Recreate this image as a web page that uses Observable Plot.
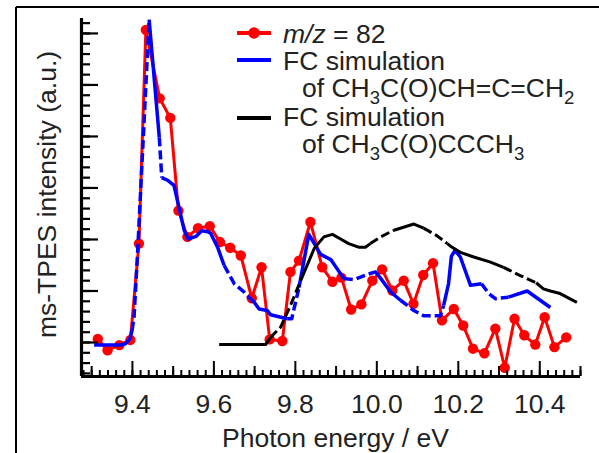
<!DOCTYPE html>
<html><head><meta charset="utf-8">
<script src="https://cdn.jsdelivr.net/npm/d3@7"></script>
<script src="https://cdn.jsdelivr.net/npm/@observablehq/plot@0.6"></script>
<style>
html,body{margin:0;padding:0;background:#fff;}
#chart{position:relative;width:599px;height:453px;overflow:hidden;background:#fff;}
</style></head><body><div id="chart"></div>
<script>
// ---- data (photon energy in eV, intensity in a.u.) ----
const redE = [9.315, 9.339, 9.368, 9.395, 9.416, 9.433, 9.467, 9.493, 9.513, 9.535, 9.561, 9.590, 9.615, 9.640, 9.666, 9.693, 9.717, 9.737, 9.768, 9.788, 9.809, 9.837, 9.866, 9.891, 9.913, 9.937, 9.962, 9.989, 10.013, 10.038, 10.066, 10.090, 10.114, 10.138, 10.160, 10.189, 10.212, 10.236, 10.264, 10.291, 10.314, 10.338, 10.362, 10.389, 10.412, 10.436, 10.465];
const redV = [0.07, -0.15, -0.05, 0.05, 1.92, 6.07, 4.74, 4.36, 2.56, 2.05, 2.22, 2.26, 1.95, 1.84, 1.69, 0.86, 1.46, 0.06, 0.03, 1.37, 1.59, 2.34, 1.46, 1.18, 1.26, 0.64, 0.74, 1.20, 1.42, 1.01, 1.20, 0.75, 1.31, 1.54, 0.43, 0.65, 0.33, -0.12, -0.21, 0.27, -0.49, 0.46, 0.14, -0.04, 0.49, -0.09, 0.10];

const blueE = [9.306, 9.372, 9.384, 9.394, 9.399, 9.404, 9.413, 9.441, 9.466, 9.472, 9.486, 9.502, 9.527, 9.537, 9.556, 9.570, 9.585, 9.592, 9.609, 9.625, 9.650, 9.674, 9.686, 9.699, 9.711, 9.731, 9.739, 9.780, 9.791, 9.809, 9.833, 9.862, 9.887, 9.919, 9.944, 9.980, 9.997, 10.009, 10.034, 10.058, 10.075, 10.091, 10.115, 10.148, 10.156, 10.164, 10.176, 10.183, 10.192, 10.205, 10.230, 10.257, 10.275, 10.291, 10.323, 10.369, 10.426];
const blueV = [-0.05, -0.05, -0.02, 0.08, 0.23, 0.49, 1.79, 6.27, 3.98, 3.20, 3.15, 3.05, 2.18, 2.01, 2.06, 2.17, 2.15, 2.12, 1.85, 1.50, 1.14, 0.98, 0.88, 0.78, 0.65, 0.62, 0.54, 0.46, 0.46, 1.07, 2.10, 1.71, 1.61, 1.24, 1.22, 1.33, 1.37, 1.25, 0.98, 0.82, 0.72, 0.62, 0.52, 0.52, 0.52, 0.72, 1.14, 1.67, 1.79, 1.66, 1.11, 1.14, 0.95, 0.85, 0.88, 1.00, 0.68];

const blackE = [9.613, 9.727, 9.739, 9.764, 9.788, 9.813, 9.846, 9.854, 9.870, 9.891, 9.911, 9.931, 9.955, 9.972, 9.984, 10.009, 10.042, 10.091, 10.115, 10.148, 10.173, 10.181, 10.205, 10.238, 10.279, 10.311, 10.352, 10.391, 10.409, 10.426, 10.450, 10.491];
const blackV = [-0.04, -0.04, 0.10, 0.30, 0.72, 1.20, 1.82, 1.90, 2.05, 2.10, 2.01, 1.92, 1.85, 1.85, 1.92, 2.05, 2.18, 2.30, 2.22, 2.07, 1.92, 1.87, 1.75, 1.66, 1.56, 1.46, 1.30, 1.16, 1.04, 1.00, 0.95, 0.78];

const xTickValues = [9.4, 9.6, 9.8, 10.0, 10.2, 10.4];
const xTickLabels = ["9.4", "9.6", "9.8", "10.0", "10.2", "10.4"];
const xLabel = "Photon energy / eV";
const yLabel = "ms-TPES intensity (a.u.)";
const legendNames = [
  [{t: "m/z", it: true}, {t: " = 82"}],
  [{t: "FC simulation"}],
  [{t: "of CH"}, {t: "3", sub: true}, {t: "C(O)CH=C=CH"}, {t: "2", sub: true}],
  [{t: "FC simulation"}],
  [{t: "of CH"}, {t: "3", sub: true}, {t: "C(O)CCCH"}, {t: "3", sub: true}]
];

// ---- style config ----
const RED = "#ff0000", BLUE = "#0000ff", BLACK = "#000000";
const FONT = "'Liberation Sans', Arial, Helvetica, sans-serif";
const FS = 26.5;
const blueDashed = [[9.40, 9.44], [9.46, 9.475], [9.62, 9.68], [9.785, 9.81], [9.92, 9.98], [10.06, 10.16], [10.255, 10.32]];
const blackDashed = [[9.745, 9.82], [9.98, 10.035], [10.125, 10.175], [10.32, 10.39]];

const W = 599, H = 453, mL = 81, mR = 19, mT = 18, mB = 77;
const plotW = W - mL - mR, plotH = H - mT - mB;
const xDomain = [9.275, 10.5], yDomain = [-0.66, 6.29];

function split(E, V, dashed) {
  const solid = [], dash = [];
  let prev = null, run = 0;
  for (let i = 0; i < E.length - 1; i++) {
    const mid = (E[i] + E[i + 1]) / 2;
    const d = dashed.some(([a, b]) => mid >= a && mid <= b);
    const target = d ? dash : solid;
    if (d !== prev) { run++; prev = d; target.push({e: E[i], v: V[i], run}); }
    target.push({e: E[i + 1], v: V[i + 1], run});
  }
  return {solid, dash};
}
const red = redE.map((e, i) => ({e, v: redV[i]}));
const blue = split(blueE, blueV, blueDashed);
const black = split(blackE, blackV, blackDashed);

const xMinor = d3.range(0, 62).map(i => +(9.28 + i * 0.02).toFixed(2)).filter(d => d <= 10.5);
const xMid = xMinor.filter(d => Math.abs(Math.round(d * 10) - d * 10) < 1e-6 && Math.round(d * 10) % 2 === 1);
const xMaj = xTickValues;
const yMinor = d3.range(-3, 32).map(i => +(i * 0.2).toFixed(1));
const yMaj = d3.range(0, 7);

const lineOpts = {x: "e", y: "v", z: "run", strokeLinejoin: "round", strokeLinecap: "butt"};

const svgEl = Plot.plot({
  width: W, height: H,
  marginLeft: mL, marginRight: mR, marginTop: mT, marginBottom: mB,
  x: {domain: xDomain, axis: null},
  y: {domain: yDomain, axis: null},
  style: {fontFamily: FONT, background: "#fff", overflow: "visible"},
  marks: [
    // red experimental data
    Plot.line(red, {x: "e", y: "v", stroke: RED, strokeWidth: 3, strokeLinejoin: "round"}),
    Plot.dot(red, {x: "e", y: "v", r: 5.2, fill: RED, stroke: "none"}),
    // blue simulation
    Plot.line(blue.solid, {...lineOpts, stroke: BLUE, strokeWidth: 3.5}),
    Plot.line(blue.dash, {...lineOpts, stroke: BLUE, strokeWidth: 3.5, strokeDasharray: "9,4"}),
    // black simulation
    Plot.line(black.solid, {...lineOpts, stroke: BLACK, strokeWidth: 3}),
    Plot.line(black.dash, {...lineOpts, stroke: BLACK, strokeWidth: 3, strokeDasharray: "9,4"}),
    // axes ticks (inward)
    Plot.ruleX(xMinor, {stroke: BLACK, strokeWidth: 2, insetTop: plotH - 6}),
    Plot.ruleX(xMid, {stroke: BLACK, strokeWidth: 2, insetTop: plotH - 10}),
    Plot.ruleX(xMaj, {stroke: BLACK, strokeWidth: 2, insetTop: plotH - 15}),
    Plot.ruleY(yMinor, {stroke: BLACK, strokeWidth: 2.2, insetRight: plotW - 9}),
    Plot.ruleY(yMaj, {stroke: BLACK, strokeWidth: 2.2, insetRight: plotW - 17}),
    // spines
    Plot.ruleX([xDomain[0]], {stroke: BLACK, strokeWidth: 3.2}),
    Plot.ruleY([yDomain[0]], {stroke: BLACK, strokeWidth: 3.2}),
    // tick labels & titles
    Plot.text(xTickValues, {x: d => d, text: (d, i) => xTickLabels[i], frameAnchor: "bottom", lineAnchor: "top", dy: 17.5, fontSize: FS, fill: "#222"}),
    Plot.text([xLabel], {frameAnchor: "bottom", lineAnchor: "top", textAnchor: "middle", dy: 52, dx: 4.5, fontSize: FS, fill: "#222"}),
    Plot.text([yLabel], {frameAnchor: "left", rotate: -90, lineAnchor: "middle", textAnchor: "middle", dx: -33.5, dy: -3, fontSize: FS, fill: "#222"})
  ]
});
document.getElementById("chart").appendChild(svgEl);

// ---- outer frame and legend ----
const svg = d3.select(svgEl);
const deco = svg.append("g");
deco.append("line").attr("x1", 16).attr("y1", 7).attr("x2", 16).attr("y2", H).attr("stroke", BLACK).attr("stroke-width", 2);
deco.append("line").attr("x1", 16).attr("y1", 7).attr("x2", W).attr("y2", 7).attr("stroke", BLACK).attr("stroke-width", 2);

const legendSamples = [{c: RED, y: 33, dot: true}, {c: BLUE, y: 60}, {c: BLACK, y: 118}];
const leg = svg.append("g").attr("text-anchor", "start");
legendSamples.forEach(s => {
  leg.append("line").attr("x1", 237).attr("x2", 271).attr("y1", s.y).attr("y2", s.y)
    .attr("stroke", s.c).attr("stroke-width", 4);
  if (s.dot) leg.append("circle").attr("cx", 254).attr("cy", s.y).attr("r", 5.8).attr("fill", s.c);
});
const legendX = [283, 283, 302, 283, 302];
const legendY = [43, 70, 97, 126, 153];
legendNames.forEach((parts, i) => {
  const t = leg.append("text").attr("x", legendX[i]).attr("y", legendY[i])
    .attr("text-anchor", "start")
    .attr("font-family", FONT).attr("font-size", FS).attr("fill", "#222");
  let shifted = false;
  parts.forEach(p => {
    const ts = t.append("tspan").text(p.t);
    if (p.it) ts.attr("font-style", "italic");
    if (p.sub) { ts.attr("font-size", FS * 0.7).attr("dy", 7); shifted = true; }
    else if (shifted) { ts.attr("dy", -7); shifted = false; }
  });
});
</script></body></html>
